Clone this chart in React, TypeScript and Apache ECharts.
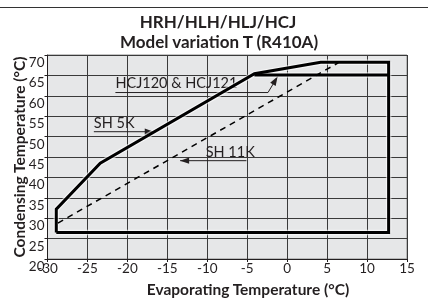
import React, { useEffect, useRef } from "react";
import * as echarts from "echarts";

// Operating envelope (SH 5K) – thick solid outline
const envelopeX = [-28.9, -28.9, -23.4, -4.1, 4.2, 12.7, 12.7, -28.9];
const envelopeY = [26.5, 32.2, 43.5, 65.4, 68.2, 68.2, 26.5, 26.5];
// HCJ120 & HCJ121 upper limit
const hcjX = [-4.1, 12.7];
const hcjY = [65.1, 65.1];
// SH 11K dashed limit
const sh11X = [-28.7, 6.4];
const sh11Y = [28.8, 68.1];

// Annotations
const annLabels = ["HCJ120 & HCJ121", "SH 5K", "SH 11K"];
const annTextX = [-21.5, -24.2, -10.2];
const annTextY = [61.3, 51.7, 44.6];
const annPathX = [[-21.5, -2.4, -1.2], [-24.2, -16.7], [-5.1, -13.4]];
const annPathY = [[60.8, 60.8, 64.7], [51.2, 51.2], [44.1, 44.1]];

// Axes
const xMin = -30, xMax = 15, xStep = 5;
const yMin = 20, yMax = 70, yStep = 5;

const titleLines = ["HRH/HLH/HLJ/HCJ", "Model variation T (R410A)"];
const xName = "Evaporating Temperature (°C)";
const yName = "Condensing Temperature (°C)";

const FONT = "Lato";
const INK = "#231f20";

const zip = (xs: number[], ys: number[]) => xs.map((x, i) => [x, ys[i]]);

export default function App() {
  const ref = useRef<HTMLDivElement>(null);
  useEffect(() => {
    if (!ref.current) return;
    const chart = echarts.init(ref.current, null, { renderer: "svg" });
    chart.setOption({
      animation: false,
      graphic: [
        { type: "line", shape: { x1: 0, y1: 7.5, x2: 428, y2: 7.5 }, style: { stroke: "#333", lineWidth: 1 } },
        {
          type: "text",
          x: 218,
          y: 21.5,
          style: { text: titleLines[0], font: `bold 17px ${FONT}`, lineHeight: 17, fill: INK, align: "center", verticalAlign: "middle" },
        },
        {
          type: "text",
          x: 219,
          y: 41.5,
          style: { text: titleLines[1], font: `bold 17px ${FONT}`, lineHeight: 17, fill: INK, align: "center", verticalAlign: "middle" },
        },
        {
          type: "text",
          x: 248,
          y: 289,
          style: { text: xName, font: `bold 15.5px ${FONT}`, fill: INK, align: "center", verticalAlign: "middle" },
        },
        {
          type: "text",
          x: 19,
          y: 157,
          rotation: Math.PI / 2,
          style: { text: yName, font: `bold 15.5px ${FONT}`, fill: INK, align: "center", verticalAlign: "middle" },
        },
      ],
      grid: {
        left: 47.5,
        right: 21,
        top: 55,
        bottom: 40,
        show: true,
        backgroundColor: "#e6e7e8",
        borderColor: "#8a8a8a",
        borderWidth: 1,
        outerBoundsMode: "none",
        containLabel: false,
      },
      xAxis: {
        type: "value",
        min: xMin,
        max: xMax,
        interval: xStep,
        axisLine: { show: true, onZero: false, lineStyle: { color: INK, width: 1 } },
        axisTick: { show: true, length: 3, lineStyle: { color: INK } },
        splitLine: { show: true, lineStyle: { color: "#3a3a3a", width: 1 } },
        axisLabel: { color: INK, fontFamily: FONT, fontSize: 13.5, margin: 2 },
      },
      yAxis: {
        type: "value",
        min: yMin,
        max: yMax,
        interval: yStep,
        axisLine: { show: true, onZero: false, lineStyle: { color: INK, width: 1 } },
        axisTick: { show: true, length: 3, lineStyle: { color: INK } },
        splitLine: { show: true, lineStyle: { color: "#3a3a3a", width: 1 } },
        axisLabel: { color: INK, fontFamily: FONT, fontSize: 13.5, margin: 3, verticalAlign: "top" },
      },
      series: [
        {
          type: "line",
          data: zip(envelopeX, envelopeY),
          symbol: "none",
          lineStyle: { color: "rgba(255,255,255,0.6)", width: 5.5 },
          silent: true,
        },
        {
          type: "line",
          data: zip(hcjX, hcjY),
          symbol: "none",
          lineStyle: { color: "rgba(255,255,255,0.6)", width: 5.5 },
          silent: true,
        },
        {
          type: "line",
          data: zip(envelopeX, envelopeY),
          symbol: "none",
          lineStyle: { color: "#000", width: 3, join: "miter" },
        },
        {
          type: "line",
          data: zip(hcjX, hcjY),
          symbol: "none",
          lineStyle: { color: "#000", width: 3 },
        },
        {
          type: "line",
          data: zip(sh11X, sh11Y),
          symbol: "none",
          lineStyle: { color: "#000", width: 1.5, type: [6, 5] },
        },
        {
          type: "custom",
          data: zip(annTextX, annTextY),
          encode: { x: 0, y: 1 },
          clip: false,
          renderItem: (params: any, api: any) => {
            const i = params.dataIndex;
            const pts = annPathX[i].map((x, j) => api.coord([x, annPathY[i][j]]));
            const tip = pts[pts.length - 1];
            const prev = pts[pts.length - 2];
            const a = Math.atan2(tip[1] - prev[1], tip[0] - prev[0]);
            const L = 9, W = 3.2;
            const bx = tip[0] - L * Math.cos(a), by = tip[1] - L * Math.sin(a);
            const arrow = [
              tip,
              [bx - W * Math.sin(a), by + W * Math.cos(a)],
              [bx + W * Math.sin(a), by - W * Math.cos(a)],
            ];
            const tp = api.coord([annTextX[i], annTextY[i]]);
            return {
              type: "group",
              children: [
                { type: "polyline", shape: { points: pts }, style: { stroke: INK, lineWidth: 1, fill: "none" } },
                { type: "polygon", shape: { points: arrow }, style: { fill: INK } },
                {
                  type: "text",
                  style: { text: annLabels[i], x: tp[0], y: tp[1], font: `14.5px ${FONT}`, fill: INK, align: "left", verticalAlign: "bottom" },
                },
              ],
            };
          },
        },
      ],
    });
    return () => chart.dispose();
  }, []);
  return <div ref={ref} style={{ position: "fixed", left: 0, top: 0, width: 428, height: 299 }} />;
}
